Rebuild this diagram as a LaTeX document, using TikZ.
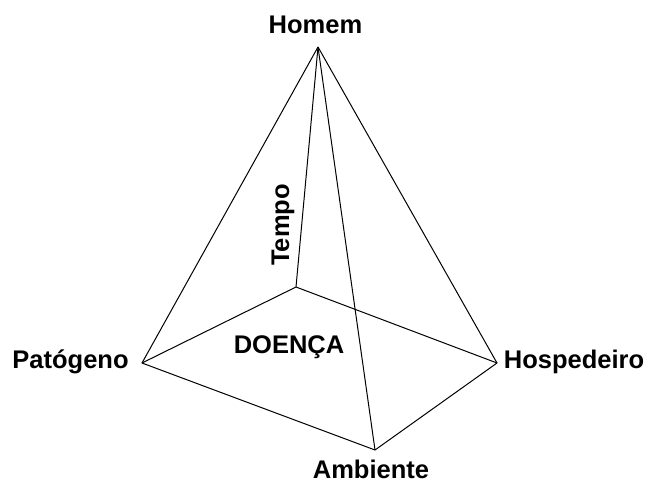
\documentclass[tikz,border=0pt]{standalone}
\usepackage{fontspec}
\setmainfont{Liberation Sans}
\begin{document}
\begin{tikzpicture}[x=1pt,y=-1pt,
  lbl/.style={font=\fontsize{25.5}{30}\selectfont\bfseries, inner sep=0pt, anchor=base},
  edge/.style={line width=1pt, line join=round}]
\useasboundingbox (0,0) rectangle (650,482);
\fill[white] (0,0) rectangle (650,482);
\coordinate (apex) at (318,47);
\coordinate (pat) at (142,363);
\coordinate (hos) at (497,363);
\coordinate (amb) at (375,450);
\coordinate (back) at (296,287);
\draw[edge] (apex) -- (pat);
\draw[edge] (apex) -- (hos);
\draw[edge] (apex) -- (amb);
\draw[edge] (apex) -- (back);
\draw[edge] (pat) -- (back) -- (hos) -- (amb) -- cycle;
\node[lbl] (homem) at (315.5,33) {Homem};
\node[lbl] (patogeno) at (70.5,368) {Patógeno};
\node[lbl] (hospedeiro) at (574,368) {Hospedeiro};
\node[lbl] (ambiente) at (371,478) {Ambiente};
\node[lbl] (doenca) at (289,353) {DOENÇA};
\node[lbl, rotate=90] (tempo) at (289,225) {Tempo};
\end{tikzpicture}
\end{document}
